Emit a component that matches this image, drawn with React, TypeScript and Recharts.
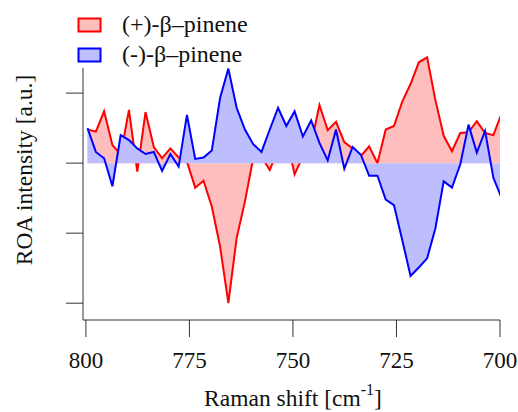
import { AreaChart, Area, XAxis, YAxis, Legend, ReferenceLine } from 'recharts';

const shift = [
  799.6, 797.6, 795.6, 793.6, 791.6, 789.6, 787.6, 785.6, 783.6, 781.6, 779.6,
  777.6, 775.6, 773.6, 771.6, 769.6, 767.6, 765.6, 763.6, 761.6, 759.6, 757.6,
  755.6, 753.6, 751.6, 749.6, 747.6, 745.6, 743.6, 741.6, 739.6, 737.6, 735.6,
  733.6, 731.6, 729.6, 727.6, 725.6, 723.6, 721.6, 719.6, 717.6, 715.6, 713.6,
  711.6, 709.6, 707.6, 705.6, 703.6, 701.6, 699.6,
];

const plusPinene = [
  0.48, 0.45, 0.74, 0.26, 0.12, 0.76, -0.12, 0.73, 0.23, 0.07, 0.21, 0.08,
  0.02, -0.35, -0.25, -0.62, -1.19, -2.0, -1.07, -0.55, 0.07, 0.09, -0.1, 0.2,
  0.39, -0.16, 0.1, 0.28, 0.83, 0.47, 0.59, 0.3, 0.21, 0.1, 0.24, 0.0, 0.48,
  0.53, 0.88, 1.13, 1.44, 1.51, 0.9, 0.39, 0.17, 0.43, 0.44, 0.6, 0.43, 0.4,
  0.71,
];

const minusPinene = [
  0.5, 0.16, 0.07, -0.33, 0.4, 0.33, 0.21, 0.13, 0.16, -0.11, 0.13, -0.05,
  0.69, 0.06, 0.08, 0.18, 0.93, 1.35, 0.79, 0.48, 0.27, 0.16, 0.48, 0.79, 0.53,
  0.74, 0.38, 0.61, 0.29, 0.04, 0.48, -0.08, 0.23, 0.12, -0.18, -0.18, -0.52,
  -0.6, -1.1, -1.61, -1.49, -1.36, -0.93, -0.26, -0.35, -0.02, 0.55, 0.15,
  0.46, -0.21, -0.5,
];

const xTicks = [800, 775, 750, 725, 700];
const yTicks = [1, 0, -1, -2];

const legendItems = [
  { name: '(+)-β–pinene', stroke: '#ff0000', fill: '#ffbebe' },
  { name: '(-)-β–pinene', stroke: '#0000ff', fill: '#bebeff' },
];

const data = shift.map((s, i) => ({
  shift: s,
  plus: plusPinene[i],
  minus: minusPinene[i],
}));

const font = "'Liberation Serif', 'Times New Roman', serif";

const renderLegend = () => (
  <svg width={300} height={70} style={{ display: 'block' }}>
    {legendItems.map((item, i) => (
      <g key={item.name}>
        <rect
          x={78.5}
          y={18.5 + i * 30}
          width={22}
          height={13}
          fill={item.fill}
          stroke={item.stroke}
          strokeWidth={2}
        />
        <text x={122} y={32 + i * 30} fontFamily={font} fontSize={24} fill="#111">
          {item.name}
        </text>
      </g>
    ))}
  </svg>
);

const renderXTitle = () => (
  <text x={293} y={406} textAnchor="middle" fontFamily={font} fontSize={23.5} fill="#111">
    Raman shift [cm
    <tspan fontSize={16} dy={-11}>-1</tspan>
    <tspan dy={11}>]</tspan>
  </text>
);

const renderYTitle = () => (
  <text
    x={32}
    y={170}
    textAnchor="middle"
    transform="rotate(-90, 32, 170)"
    fontFamily={font}
    fontSize={23.5}
    fill="#111"
  >
    ROA intensity [a.u.]
  </text>
);

// y ticks: keep the tick marks, draw no numbers
const noTickLabel = () => <g />;

export default function App() {
  return (
    <div style={{ position: 'absolute', left: 0, top: 0 }}>
      <AreaChart
        width={518}
        height={412}
        data={data}
        margin={{ top: 56, right: 18, bottom: 62, left: 0 }}
      >
        <XAxis
          type="number"
          dataKey="shift"
          domain={[700, 800.7]}
          reversed
          allowDataOverflow
          ticks={xTicks}
          height={30}
          tickSize={17}
          tickMargin={15}
          stroke="#333"
          tick={{ fill: '#111', fontSize: 23, fontFamily: font }}
          label={renderXTitle}
        />
        <YAxis
          type="number"
          domain={[-2.24, 1.53]}
          ticks={yTicks}
          width={83}
          tick={noTickLabel}
          tickSize={17}
          axisLine={false}
          stroke="#333"
          label={renderYTitle}
        />
        <ReferenceLine
          segment={[
            { x: 800.7, y: -2.24 },
            { x: 800.7, y: 1.36 },
          ]}
          stroke="#333"
          ifOverflow="visible"
        />
        <Area
          type="linear"
          dataKey="plus"
          baseValue={0}
          stroke="#ff0000"
          strokeWidth={2}
          fill="#ffbebe"
          fillOpacity={1}
          isAnimationActive={false}
        />
        <Area
          type="linear"
          dataKey="minus"
          baseValue={0}
          stroke="#0000ff"
          strokeWidth={2}
          fill="#bebeff"
          fillOpacity={1}
          isAnimationActive={false}
        />
        <Legend
          layout="vertical"
          verticalAlign="middle"
          align="center"
          wrapperStyle={{ left: 0, top: 0 }}
          content={renderLegend}
        />
      </AreaChart>
    </div>
  );
}
